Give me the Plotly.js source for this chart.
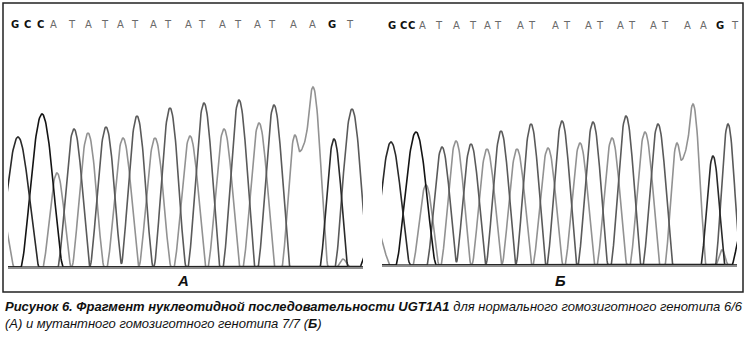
<!DOCTYPE html>
<html>
<head>
<meta charset="utf-8">
<script src="https://cdn.plot.ly/plotly-3.0.1.min.js"></script>
<style>html,body{margin:0;padding:0;background:#fff;}#chart{width:747px;height:337px;}</style>
</head>
<body>
<div id="chart"></div>
<script>
// ---- Panel A (genotype 6/6): peak calls ----
const peakPosA    = [10, 326, 34, 360, -10, 49, 80, 115, 147, 182, 216, 251, 287, 305, 335, 66, 98, 129, 162, 196, 231, 266, 344];
const peakHeightA = [130, 128, 153, 20, 72, 94, 134, 129, 129, 131, 138, 144, 132, 180, 8, 138, 140, 151, 159, 164, 167, 162, 158];
const peakWidthA  = [21, 14, 21, 8, 16, 14, 16, 16, 16, 16, 16, 16, 13, 15, 6, 16, 16, 16, 16, 16, 16, 16, 17];
const peakBaseA   = ['G','G','C','C','A','A','A','A','A','A','A','A','A','A','A','T','T','T','T','T','T','T','T'];

// ---- Panel B (genotype 7/7) ----
const peakPosB    = [9, 331, 34, 362, -8, 44, 74, 105, 135, 166, 198, 230, 263, 295, 311, 340, 60, 89, 119, 149, 180, 211, 244, 276, 346];
const peakHeightB = [123, 109, 133, 45, 42, 80, 124, 116, 116, 117, 122, 127, 133, 122, 161, 15, 118, 121, 134, 141, 144, 143, 149, 141, 141];
const peakWidthB  = [19, 12, 20, 12, 16, 13, 15, 15, 15, 15, 15, 15, 15, 12, 13, 6, 15, 15, 15, 15, 15, 15, 15, 15, 12.5];
const peakBaseB   = ['G','G','C','C','A','A','A','A','A','A','A','A','A','A','A','A','T','T','T','T','T','T','T','T','T'];

// ---- Base-call letters above the traces ----
const lettersA   = ['G','C','C','A','T','A','T','A','T','A','T','A','T','A','T','A','T','A','A','G','T'];
const letterPosA = [7, 19, 32, 45, 64, 80, 97, 112, 127, 145, 160, 180, 194, 214, 230, 249, 264, 285, 304, 324, 342];
const lettersB   = ['G','C','C','A','T','A','T','A','T','A','T','A','T','A','T','A','T','A','T','A','A','G','T'];
const letterPosB = [10, 21, 29, 40, 57, 74, 91, 105, 116, 138, 150, 173, 185, 206, 218, 238, 250, 271, 283, 305, 321, 338, 353];

const panelLabels = ['А', 'Б'];
const captionLine1 = '<b><i>Рисунок 6. Фрагмент нуклеотидной последовательности UGT1A1</i></b><i> для нормального гомозиготного генотипа 6/6</i>';
const captionLine2 = '<i>(А) и мутантного гомозиготного генотипа 7/7 (</i><b><i>Б</i></b><i>)</i>';

const channels = ['A', 'T', 'C', 'G'];
const channelColor = {G: '#2a2a2a', C: '#141414', A: '#929292', T: '#5a5a5a'};

// each called peak is drawn as a rounded lobe of the given base half-width
function channelCurve(pos, hgt, wid, base, ch) {
  const xs = [], ys = [];
  for (let x = -20; x <= 376; x += 0.5) {
    let y = 0;
    for (let i = 0; i < pos.length; i++) {
      if (base[i] !== ch) continue;
      const d = x - pos[i];
      if (Math.abs(d) < wid[i]) y += hgt[i] * Math.pow(Math.cos(Math.PI * d / (2 * wid[i])), 1.5);
    }
    xs.push(x); ys.push(y);
  }
  return {xs, ys};
}

const traces = [];
[[peakPosA, peakHeightA, peakWidthA, peakBaseA, 'x', 'y'],
 [peakPosB, peakHeightB, peakWidthB, peakBaseB, 'x2', 'y2']].forEach(p => {
  channels.forEach(ch => {
    const c = channelCurve(p[0], p[1], p[2], p[3], ch);
    traces.push({
      x: c.xs, y: c.ys, xaxis: p[4], yaxis: p[5], type: 'scatter', mode: 'lines',
      line: {color: channelColor[ch], width: 1.6}, hoverinfo: 'skip', showlegend: false
    });
  });
});

const annotations = [];
function addLetters(letters, posArr, xr, yr, yv) {
  letters.forEach((L, i) => {
    const strong = (L === 'G' || L === 'C');
    annotations.push({
      x: posArr[i], y: yv, xref: xr, yref: yr, showarrow: false,
      text: strong ? '<b>' + L + '</b>' : L,
      font: {family: 'DejaVu Sans, Arial, sans-serif', size: 10, color: strong ? '#111' : '#6a6a6a'},
      xanchor: 'center', yanchor: 'middle'
    });
  });
}
addLetters(lettersA, letterPosA, 'x', 'y', 242);
addLetters(lettersB, letterPosB, 'x2', 'y2', 239);

const labFont = {family: 'Liberation Sans, Arial, sans-serif', size: 15, color: '#111'};
annotations.push({x: 183/747, y: (337-280)/337, xref: 'paper', yref: 'paper', showarrow: false,
  xanchor: 'center', yanchor: 'middle', text: '<b><i>' + panelLabels[0] + '</i></b>', font: labFont});
annotations.push({x: 560/747, y: (337-280)/337, xref: 'paper', yref: 'paper', showarrow: false,
  xanchor: 'center', yanchor: 'middle', text: '<b><i>' + panelLabels[1] + '</i></b>', font: labFont});

const capFont = {family: 'Liberation Sans, Arial, sans-serif', size: 13, color: '#111'};
annotations.push({x: 3/747, y: (337-306)/337, xref: 'paper', yref: 'paper', showarrow: false,
  xanchor: 'left', yanchor: 'middle', text: captionLine1, font: capFont});
annotations.push({x: 3/747, y: (337-323)/337, xref: 'paper', yref: 'paper', showarrow: false,
  xanchor: 'left', yanchor: 'middle', text: captionLine2, font: capFont});

const axisX = (dom) => ({domain: dom, range: [0, 355], showgrid: false, zeroline: false, showticklabels: false,
  ticks: '', showline: true, linecolor: '#8c8c8c', linewidth: 2, fixedrange: true});
const axisY = (dom, anchor) => ({domain: dom, range: [0, 250], showgrid: false, zeroline: false, showticklabels: false,
  ticks: '', showline: false, anchor: anchor, fixedrange: true});

const layout = {
  width: 747, height: 337,
  margin: {l: 0, r: 0, t: 0, b: 0},
  paper_bgcolor: '#fff', plot_bgcolor: 'rgba(0,0,0,0)',
  xaxis: Object.assign(axisX([8/747, 363/747]), {anchor: 'y'}),
  yaxis: axisY([70/337, 320/337], 'x'),
  xaxis2: Object.assign(axisX([382/747, 737/747]), {anchor: 'y2'}),
  yaxis2: axisY([72/337, 322/337], 'x2'),
  annotations: annotations,
  shapes: [{type: 'rect', xref: 'paper', yref: 'paper', x0: 3/747, x1: 743/747,
    y0: (337-292)/337, y1: (337-3)/337, line: {color: '#222', width: 1.5}, fillcolor: 'rgba(0,0,0,0)'}],
  showlegend: false
};

Plotly.newPlot('chart', traces, layout, {displayModeBar: false, staticPlot: true});
</script>
</body>
</html>
